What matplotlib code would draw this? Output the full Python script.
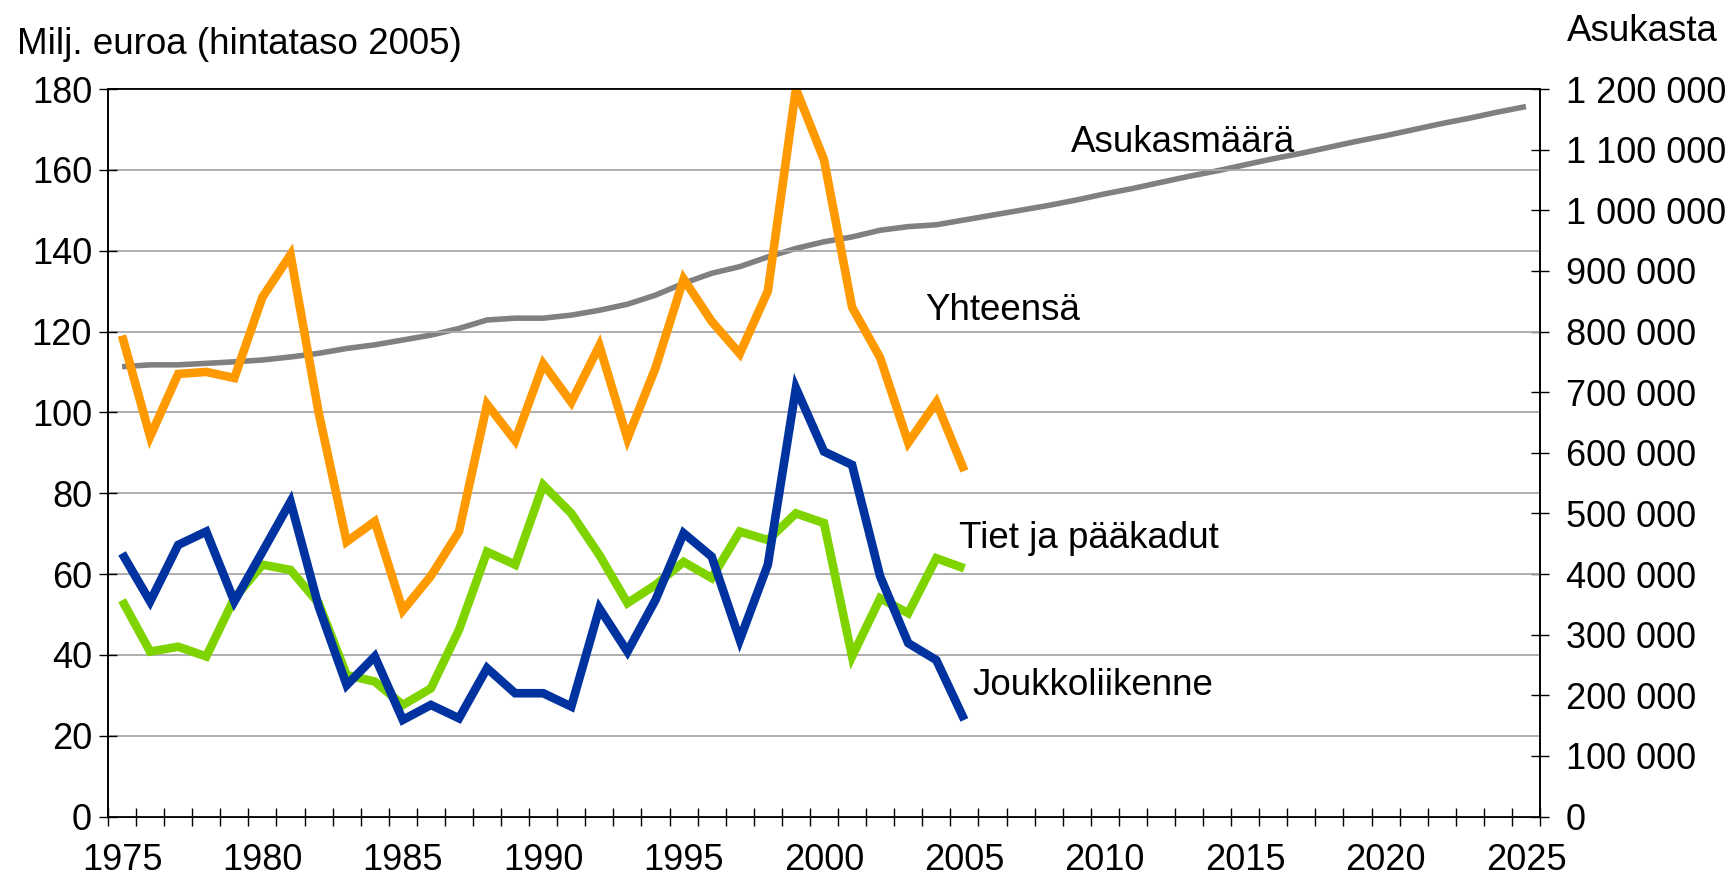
import numpy as np
import matplotlib
matplotlib.use("Agg")
import matplotlib.pyplot as plt
from matplotlib.ticker import FuncFormatter

plt.rcParams['font.family'] = ['Liberation Sans', 'DejaVu Sans']

# investment series, million euros (2005 prices)
years = list(range(1975, 2006))
yhteensa = [119, 94, 109.5, 110, 108.5, 128.5, 139, 100, 68, 73, 51, 59.5, 70.5,
            102, 93, 112, 102.5, 116.5, 93.5, 111, 133, 122.5, 114.5, 130, 180,
            162.5, 126, 113.5, 92.5, 102.5, 85.5]
tiet = [53.5, 40.8, 42, 39.6, 54, 62.3, 61, 52.8, 35, 33.4, 27.6, 31.7, 46.2,
        65.5, 62.3, 82, 75, 64.7, 52.8, 57.3, 63, 59, 70.5, 68.4, 75, 72.6,
        39.6, 54, 50.3, 63.9, 61.4]
joukko = [65.1, 53.2, 67.2, 70.5, 53.2, 65.5, 77.9, 52, 32.5, 39.6, 23.9, 27.6,
          24.3, 36.7, 30.5, 30.5, 27.2, 51.5, 40.8, 53.6, 70.1, 64.3, 43.7,
          62.3, 106, 90.3, 87, 59.4, 42.9, 38.7, 23.9]

# population (thousands), incl. projection to 2025
pop_years = list(range(1975, 2026))
asukkaat = [742, 745, 745, 747.5, 750, 753, 758, 764, 772, 778,
            786, 794, 805, 819, 822, 822, 827, 835, 845, 860,
            879.5, 896, 907, 923, 937, 948, 956, 967, 973, 976,
            984, 992, 1000, 1008, 1017, 1027, 1036, 1046, 1056, 1065,
            1075, 1085, 1094, 1104, 1114, 1123, 1133, 1143, 1152, 1162,
            1171]

left_ticks = list(range(0, 181, 20))
right_ticks = list(range(0, 1200001, 100000))
year_labels = list(range(1975, 2026, 5))

fig = plt.figure(figsize=(17.33, 8.84), dpi=100)
ax = fig.add_axes([108 / 1733, 1 - 816.5 / 884, (1540 - 108) / 1733, (816.5 - 89) / 884])
ax2 = ax.twinx()
ax.set_zorder(ax2.get_zorder() + 1)
ax.patch.set_visible(False)

ax2.plot(pop_years, np.array(asukkaat) * 1000, color='#808080', lw=4,
         solid_capstyle='butt', solid_joinstyle='miter')

kw = dict(lw=6.2, solid_capstyle='butt', solid_joinstyle='miter')
ax.plot(years, tiet, color='#7fd400', **kw)
ax.plot(years, joukko, color='#0033a0', **kw)
ax.plot(years, yhteensa, color='#ff9900', **kw)

ax.set_xlim(1974.5, 2025.5)
ax.set_ylim(0, 180)
ax2.set_ylim(0, 1200000)

ax.set_yticks(left_ticks)
ax.yaxis.grid(True, color='#a8a8a8', lw=1.3)
ax.set_axisbelow(True)
ax2.set_yticks(right_ticks)
ax2.yaxis.set_major_formatter(FuncFormatter(lambda v, p: f"{int(v):,}".replace(",", " ")))

ax.set_xticks(year_labels)
ax.set_xticks(np.arange(1974.5, 2026, 1), minor=True)
ax.tick_params(axis='x', which='major', length=0, pad=19, labelsize=26)
ax.tick_params(axis='x', which='minor', length=13, width=1, direction='inout')
ax.tick_params(axis='y', length=13, width=1, direction='inout', pad=5, labelsize=26)
ax2.tick_params(axis='y', length=13, width=1, direction='inout', pad=12, labelsize=26)

for a in (ax, ax2):
    for s in a.spines.values():
        s.set_linewidth(1.2)
        s.set_color('black')

fs = 26.5
ax.text(2008.8, 164.5, 'Asukasmäärä', fontsize=fs, va='baseline')
ax.text(2003.6, 122.9, 'Yhteensä', fontsize=fs, va='baseline')
ax.text(2004.8, 66.4, 'Tiet ja pääkadut', fontsize=fs, va='baseline')
ax.text(2005.3, 30.0, 'Joukkoliikenne', fontsize=fs, va='baseline')

fig.text(17 / 1733, 1 - 54 / 884, 'Milj. euroa (hintataso 2005)', fontsize=fs, va='baseline')
fig.text(1567 / 1733, 1 - 41 / 884, 'Asukasta', fontsize=fs, va='baseline')

fig.savefig('out.png', dpi=100)
